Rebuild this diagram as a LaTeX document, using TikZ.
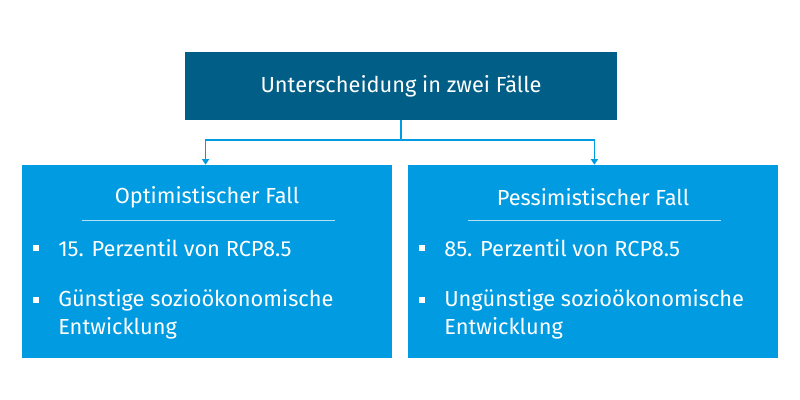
\documentclass[tikz,border=0pt]{standalone}
\usepackage{fontspec}
\setmainfont{Fira Sans}
\usetikzlibrary{positioning,arrows.meta}
\definecolor{topblue}{HTML}{005E87}
\definecolor{caseblue}{HTML}{009BE0}
\tikzset{
    casebox/.style={fill=caseblue, minimum width=370*0.025cm, minimum height=193*0.025cm, inner sep=0pt},
    bulletmark/.style={fill=white, minimum size=4pt, inner sep=0pt},
    itemtext/.style={text=white, anchor=west, font=\fontsize{15.5}{20}\selectfont, align=left, inner sep=0pt},
    headtext/.style={text=white, font=\fontsize{15.5}{18}\selectfont},
    linkline/.style={draw=caseblue, line width=0.9pt}
}
\begin{document}
\begin{tikzpicture}[x=0.025cm, y=-0.025cm]
    \useasboundingbox (0,0) rectangle (800,400);
    % top box
    \node[fill=topblue, minimum width=432*0.025cm, minimum height=68*0.025cm, headtext] (split) at (401,86) {Unterscheidung in zwei Fälle};
    % case boxes
    \node[casebox] (opt) at (207,261.5) {};
    \node[casebox] (pes) at (593,261.5) {};
    \coordinate (mid) at (401,140);
    \draw[linkline] (split.south) -- (mid);
    \draw[linkline, -{Triangle[length=4pt,width=5pt]}] (mid) -| ([xshift=-1pt]opt.north);
    \draw[linkline, -{Triangle[length=4pt,width=5pt]}] (mid) -| ([xshift=1pt]pes.north);
    % left contents
    \node[headtext] (optt) at (207,197) {Optimistischer Fall};
    \draw[white!70!caseblue, line width=0.5pt] (82,220) -- (335,220);
    \node[bulletmark] (ob1) at (36,248) {};
    \node[itemtext] (oi1) at (58,248) {15. Perzentil von RCP8.5};
    \node[bulletmark] (ob2) at (36,300) {};
    \node[itemtext, anchor=north west] (oi2) at (58,289) {Günstige sozioökonomische\\Entwicklung};
    % right contents
    \node[headtext] (pest) at (593,197) {Pessimistischer Fall};
    \draw[white!70!caseblue, line width=0.5pt] (468,220) -- (721,220);
    \node[bulletmark] (pb1) at (422,248) {};
    \node[itemtext] (pi1) at (444,248) {85. Perzentil von RCP8.5};
    \node[bulletmark] (pb2) at (422,300) {};
    \node[itemtext, anchor=north west] (pi2) at (444,289) {Ungünstige sozioökonomische\\Entwicklung};
\end{tikzpicture}
\end{document}
